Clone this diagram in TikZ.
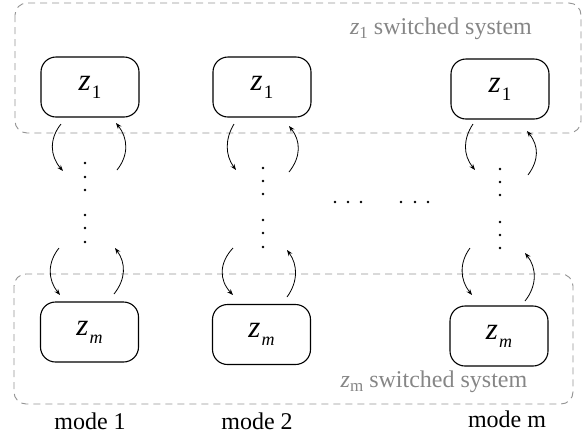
\documentclass[tikz,border=0pt]{standalone}
\usepackage{fontspec}
\setmainfont{Liberation Serif}
\usetikzlibrary{arrows.meta}
\tikzset{
  statebox/.style={draw=black, line width=1.1pt, rounded corners=15pt, minimum width=98pt, minimum height=60pt, inner sep=0pt},
  groupbox/.style={draw=gray!85, line width=0.9pt, dash pattern=on 7pt off 5pt, rounded corners=12pt},
  grouplabel/.style={text=gray!95, font=\fontsize{24}{26}\selectfont, inner sep=0pt},
  modelabel/.style={font=\fontsize{24}{26}\selectfont, inner sep=0pt},
  sw/.style={line width=0.8pt, -{Stealth[length=6pt,width=4.5pt]}},
  dot/.style={circle, fill=black, inner sep=0pt, minimum size=2.8pt}
}
\newcommand{\zone}{{\fontsize{31}{34}\selectfont\itshape z}\hspace{1pt}\raisebox{-8pt}{\fontsize{19}{21}\selectfont 1}}
\newcommand{\zem}{{\fontsize{31}{34}\selectfont\itshape z}\hspace{1pt}\raisebox{-8pt}{\fontsize{18}{20}\selectfont\itshape m}}
\begin{document}
\begin{tikzpicture}[x=1pt,y=-1pt]
\useasboundingbox (0,0) rectangle (587,440);
% group boxes
\draw[groupbox] (15,3) rectangle (581,133);
\draw[groupbox] (14,274) rectangle (573,404);
\node[grouplabel] (g1) at (441,29) {\textit{z}\raisebox{-4pt}{\fontsize{17}{19}\selectfont 1} switched system};
\node[grouplabel] (g2) at (434,382) {\textit{z}\raisebox{-4pt}{\fontsize{17}{19}\selectfont m} switched system};
% state boxes
\node[statebox] (a1) at (90,87) {\zone};
\node[statebox] (a2) at (262,87) {\zone};
\node[statebox] (a3) at (500,89) {\zone};
\node[statebox] (b1) at (89.5,332) {\zem};
\node[statebox] (b2) at (261.5,334.5) {\zem};
\node[statebox] (b3) at (499,336) {\zem};
% mode labels
\node[modelabel] (m1) at (90,421) {mode 1};
\node[modelabel] (m2) at (257,421) {mode 2};
\node[modelabel] (m3) at (507,419) {mode m};
% vertical dots
\foreach \x/\ys in {85/{163,177,190,215,228,242}, 263/{168,181,194,220,233,247}, 500/{169,182,195,222,235,248}} {
  \foreach \y in \ys { \node[dot] at (\x,\y) {}; }
}
% horizontal dots
\foreach \x in {335,348,361,401,415,428} { \node[dot] at (\x,202) {}; }
% switching arrows, top
\draw[sw] (61,124) .. controls (49,139) and (50,156) .. (63,171);
\draw[sw] (117,170) .. controls (129,155) and (128,138) .. (116,123);
\draw[sw] (234,124) .. controls (225,139) and (225,155) .. (236,170);
\draw[sw] (289,172) .. controls (301,157) and (301,141) .. (289,126);
\draw[sw] (473,124) .. controls (463,139) and (463,155) .. (475,170);
\draw[sw] (528,175) .. controls (539,160) and (539,146) .. (527,131);
% switching arrows, bottom
\draw[sw] (59,248) .. controls (47,263) and (48,280) .. (60,295);
\draw[sw] (114,294) .. controls (126,279) and (126,263) .. (115,248);
\draw[sw] (233,248) .. controls (219,263) and (219,280) .. (233,295);
\draw[sw] (287,297) .. controls (298,282) and (298,265) .. (287,250);
\draw[sw] (470,248) .. controls (459,263) and (460,280) .. (472,295);
\draw[sw] (525,301) .. controls (537,286) and (537,268) .. (525,253);
\end{tikzpicture}
\end{document}
